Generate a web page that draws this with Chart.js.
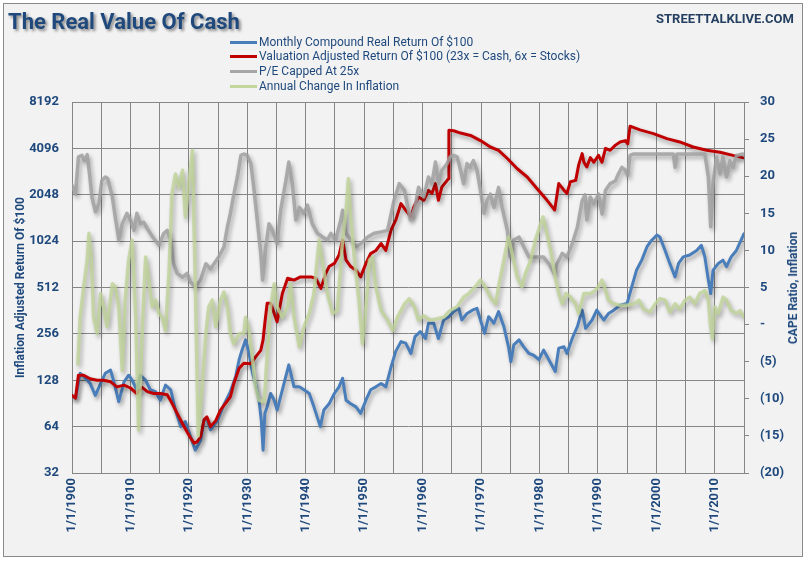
<!DOCTYPE html>
<html><head><meta charset="utf-8">
<script src="https://cdn.jsdelivr.net/npm/chart.js@4.4.1/dist/chart.umd.min.js"></script>
<style>
html,body{margin:0;padding:0;background:#fff;}
#wrap{position:relative;width:807px;height:561px;overflow:hidden;}
#frame{position:absolute;left:3px;top:3px;width:800px;height:554px;border:1px solid #8a8a8a;background:#f2f2f2;box-sizing:border-box;}
canvas{position:absolute;left:0;top:0;}
.t{position:absolute;font-family:'Liberation Sans Narrow',Roboto,sans-serif;color:#1F497D;white-space:nowrap;}
#title{left:8px;top:9px;font-size:22px;font-weight:bold;text-shadow:2px 2px 3px rgba(0,0,0,0.45);}
#site{left:656px;top:11px;font-size:13px;font-weight:bold;color:#243F60;}
.lg{position:absolute;left:230px;width:27px;height:3px;}
.lt{left:259px;font-size:12px;line-height:15px;}
#rtitle{left:793px;top:288px;font-size:12px;font-weight:bold;transform:translate(-50%,-50%) rotate(-90deg);}
</style></head>
<body><div id="wrap">
<div id="frame"></div>
<canvas id="c" width="807" height="561"></canvas>
<div class="t" id="title">The Real Value Of Cash</div>
<div class="t" id="site">STREETTALKLIVE.COM</div>
<div class="lg" style="top:41px;background:#4A7EBB"></div><div class="t lt" style="top:35px">Monthly Compound Real Return Of $100</div>
<div class="lg" style="top:55px;background:#C00000"></div><div class="t lt" style="top:49px">Valuation Adjusted Return Of $100 (23x = Cash, 6x = Stocks)</div>
<div class="lg" style="top:70px;background:#A6A6A6"></div><div class="t lt" style="top:64px">P/E Capped At 25x</div>
<div class="lg" style="top:85px;background:#C3D69B"></div><div class="t lt" style="top:79px">Annual Change In Inflation</div>
<div class="t" id="rtitle">CAPE Ratio, Inflation</div>
</div>
<script>
const leftTicks = [32,64,128,256,512,1024,2048,4096,8192];
const rightTicks = [-20,-15,-10,-5,0,5,10,15,20,25,30];
const xTickYears = [1900,1905,1910,1915,1920,1925,1930,1935,1940,1945,1950,1955,1960,1965,1970,1975,1980,1985,1990,1995,2000,2005,2010,2015];

const blueYears = [1900,1900.6,1901.4,1902.3,1903.1,1904,1904.9,1905.7,1906.6,1907.1,1908,1908.9,1909.7,1910.3,1911.1,1911.7,1912.6,1913.4,1914.3,1915.1,1916,1916.9,1917.7,1918.6,1919.4,1920.3,1921.1,1922,1922.6,1923.1,1923.7,1924.9,1926,1927.1,1928,1928.6,1929.1,1929.7,1930.3,1930.9,1931.4,1932,1932.4,1932.7,1933,1933.4,1934,1934.6,1935.1,1936,1937.1,1938,1938.9,1939.7,1940.6,1941.4,1942.5,1943.1,1944,1944.9,1945.7,1946.3,1946.9,1947.7,1948.6,1949.4,1950.3,1951.1,1952,1952.9,1953.7,1954.6,1955.4,1956.3,1957.1,1958,1958.7,1959.6,1960.5,1961,1961.9,1962.7,1963.6,1964.5,1965.3,1966.2,1966.7,1967.6,1968.5,1969.3,1969.9,1970.6,1971.3,1972.2,1973,1973.9,1974.7,1975.1,1975.6,1976.5,1977.3,1978.2,1979,1979.9,1980.7,1981.6,1982.7,1983.3,1984.2,1984.7,1985.6,1986.5,1987.3,1987.9,1989,1989.8,1991,1991.8,1992.7,1993.8,1995,1995.8,1996.6,1997.5,1998.4,1999.2,2000.1,2000.6,2001.5,2002.3,2003.2,2003.8,2004.6,2005.7,2006.9,2007.7,2008.3,2008.9,2009.3,2009.7,2010.6,2011.4,2012,2012.8,2013.7,2014.5,2015];
const blueValues = [102,98,142,132,122,102,122,142,149,128,93,125,138,128,111,138,128,111,108,95,119,111,82,64,69,55,45,52,70,72,61,70,89,108,135,174,201,234,191,142,122,95,70,45,78,86,105,95,82,111,161,116,116,111,105,86,64,82,90,105,116,132,95,90,86,78,95,111,116,122,116,156,197,228,223,191,246,265,239,300,300,239,315,331,357,375,315,347,365,375,315,258,331,300,357,286,211,169,217,234,211,191,186,174,201,174,146,207,211,191,239,286,365,278,315,365,315,347,365,393,404,519,662,771,942,1038,1120,1090,891,734,600,734,809,832,891,962,809,572,468,662,734,771,700,809,891,1038,1144];

const redYears = [1900,1900.6,1901.1,1902,1903.1,1904.3,1905.4,1906.6,1907.7,1908.9,1910,1911.1,1912,1912.9,1914,1915.1,1916.3,1917.1,1918,1918.9,1919.7,1920.3,1920.9,1921.4,1922,1922.6,1923.1,1923.7,1924.6,1925.4,1926.3,1927.1,1927.7,1928.6,1929.4,1930.6,1931.4,1932.3,1932.7,1933,1933.4,1934,1934.6,1935.1,1936,1936.9,1938,1939.1,1940.9,1941.7,1942.6,1943.4,1944,1944.9,1945.7,1946.3,1946.9,1947.7,1948.6,1949.4,1950.3,1951.1,1952,1952.9,1953.7,1954.6,1955.4,1956.3,1957.1,1958,1958.5,1959.3,1960.2,1961,1961.6,1962.2,1962.7,1963.3,1964.2,1964.4,1964.5,1965.3,1966.5,1968.2,1969.9,1971.6,1973,1974.5,1976.2,1977.9,1979.6,1981.3,1982.6,1983.3,1984.2,1984.7,1985.3,1986.2,1986.7,1987.3,1987.6,1988.1,1988.7,1989.3,1990.1,1990.7,1991.3,1992.1,1993,1993.8,1994.7,1995.1,1995.5,1997.2,1999.5,2001.8,2004,2006.3,2008.6,2010.9,2013.1,2015];
const redValues = [102,98,138,138,131,128,128,125,116,119,114,105,115,108,105,105,103,91,78,67,59,54,50,51,55,71,74,64,70,82,91,100,122,153,165,164,181,200,234,300,405,405,348,307,468,588,572,600,600,588,505,630,700,734,832,1040,771,700,663,600,734,850,890,988,891,1209,1400,1795,1630,1470,1710,1980,1885,2190,2090,2420,1885,2300,2540,2600,5370,5330,5150,4970,4600,4180,3980,3520,3020,2670,2240,1885,1630,2420,2190,2090,2490,2540,3190,3790,3330,3100,3565,3330,3690,3330,4096,3980,4300,4510,4600,4390,5710,5400,5110,4740,4510,4180,3980,3870,3690,3565];

const grayYears = [1900,1900.6,1901.1,1901.7,1902.1,1902.6,1903,1903.4,1904,1904.6,1905.1,1905.7,1906.1,1906.9,1907.4,1908,1908.6,1909.4,1910,1910.6,1911.1,1911.7,1912.3,1912.9,1913.4,1914,1914.9,1915.7,1916.3,1916.9,1917.4,1918,1918.9,1919.7,1920.3,1921.1,1922,1922.9,1923.7,1924.3,1925.1,1926,1926.6,1927.1,1927.7,1928.3,1928.9,1929.4,1930,1930.6,1931.1,1931.7,1932.3,1932.6,1933.1,1933.7,1934.3,1935.1,1935.7,1936.6,1937.1,1937.7,1938.3,1938.9,1939.7,1940.3,1941.1,1942,1942.9,1943.7,1944.3,1945.1,1946,1946.3,1946.9,1947.7,1948.6,1949.4,1950.6,1951.7,1952.9,1954,1955.1,1956,1956.9,1957.9,1958.7,1959.3,1960.2,1961,1961.6,1962.2,1962.7,1963.3,1964.2,1964.7,1965.3,1965.9,1966.5,1967,1967.6,1968.1,1968.7,1969.3,1969.9,1970.5,1971,1971.6,1972.2,1973,1973.6,1974.5,1975,1975.6,1976.5,1977.3,1978.2,1979,1979.9,1980.7,1981.6,1982.5,1983,1983.9,1984.7,1985.6,1986.5,1987.3,1987.8,1988.1,1988.7,1989.3,1990.1,1990.7,1991.3,1992.1,1993,1993.5,1994.1,1994.7,1995.1,1995.5,1996.1,2002.9,2003.2,2003.5,2008.3,2008.9,2009.3,2009.7,2010.3,2010.9,2011.4,2012,2012.6,2013.1,2013.7,2014.8,2015];
const grayValues = [18.8,17.6,22.6,22.8,22.1,22.9,20.3,17.2,15.2,16.3,19.4,19.9,19.7,17.2,14.5,11.4,13.6,15,14.1,12.7,15,13.6,13.8,12.9,12.3,11.6,10.7,12.3,12.7,11.4,8.2,6.9,6.4,6.9,5.7,5.1,6,8.2,7.5,8.2,9.1,10.5,13.2,15,17.6,19.9,22.8,23,22.8,21.7,18.5,14.1,9.6,6,10.1,13.6,12.7,10.9,15.4,19.4,21.9,19,14.1,15.8,15,16.1,13.6,12.3,11.8,11.4,12.3,11.4,14.1,15.4,12.3,11.4,10.5,10.9,11.8,12.3,12.5,12.7,16.7,19,18.1,14.1,15.8,18.5,17.2,19.9,19,21.9,19,20.8,21.7,22.6,22.8,22.6,20.8,19,21.7,21.2,22.1,20.8,18.1,15,16.7,17.6,15.8,18.5,15.8,12.7,9.1,11.4,11.8,10.5,9.1,9.1,9.1,9.1,8.2,6.9,8.2,9.6,9.1,10.9,13.2,16.7,17.5,14.1,17.2,16.3,17.6,14.9,18.1,19,19.4,20.3,21.2,20.8,20.1,22.8,23,23,21.2,23,23,19.9,13.2,19,22.6,20.3,22.6,19.9,22.1,21.2,22.8,23,22.8];

const greenYears = [1901,1901.4,1902,1902.6,1902.9,1903.3,1903.7,1904.3,1904.9,1905.4,1906,1906.9,1907.4,1908,1908.6,1909.1,1909.7,1910.3,1910.9,1911.4,1912,1912.6,1913.1,1913.7,1914.3,1914.9,1915.4,1916,1916.6,1917.1,1917.7,1918.3,1918.9,1919.4,1920,1920.6,1921.1,1921.6,1922.3,1922.9,1923.4,1924,1924.6,1925.4,1926,1926.6,1927.1,1927.7,1928.6,1929.4,1929.7,1930.3,1930.9,1931.4,1932,1932.9,1933.4,1934,1934.6,1935.1,1936,1936.9,1937.4,1938,1938.9,1939.7,1940.6,1941.4,1942.3,1942.9,1943.7,1944.6,1945.4,1946.3,1946.9,1947.3,1947.7,1948.3,1949.1,1949.7,1950.3,1950.9,1951.4,1952,1952.9,1954,1954.9,1955.7,1956.9,1957.7,1958.6,1959.3,1960.2,1961.3,1962.5,1963.6,1964.7,1965.9,1967,1967.9,1969,1969.9,1970.7,1971.6,1972.5,1973,1973.9,1974.7,1975.3,1976.2,1977,1977.6,1978.5,1979.3,1980.2,1980.6,1981,1981.9,1982.7,1983.3,1983.9,1984.5,1985.3,1986.2,1986.7,1987.6,1988.7,1989.5,1990.1,1990.7,1991.3,1991.8,1992.7,1993.8,1995,1996.1,1997,1997.8,1998.9,1999.8,2000.6,2001.5,2002.3,2003.2,2004,2004.9,2005.7,2006.6,2007.4,2008.3,2008.9,2009.3,2009.6,2010,2010.6,2011.4,2012,2012.8,2013.7,2014.3,2015];
const greenValues = [-5.3,1,5.1,8.7,12.3,9.1,1,-1.2,4.2,2.4,-0.3,5.5,5.1,2.4,-6.2,3.3,8.7,11.4,1,-14.2,-1.2,9.1,6.4,2.4,3.3,1.5,1,-0.8,6.9,17.6,20.3,18.5,20.8,14.5,19,23.5,5.5,-15,-8,-1.2,2.4,3.3,-0.3,3.3,4.4,2.4,-1.2,-2.6,-1.2,-1.2,1,-0.8,-4.8,-8.4,-10.2,-10.4,-4,2.4,5.5,2.4,1,2.4,5.5,1,-3,-0.3,1.5,4.2,11.4,8.2,4.2,1.5,1.9,11.4,15.4,19.7,14.5,9.1,3.3,-2.6,2.4,8.7,9.1,5.1,1.9,0.6,-0.8,1,2.8,3.5,2.4,0.6,1.2,0.6,0.8,1,1.9,2.4,3.7,4.2,5.1,6,5.1,3.7,2.8,5.1,8.7,11.8,9.6,6.4,5.1,6.9,8.7,11.4,13.6,14.5,13.2,10,6.4,4.2,2.8,4.2,3.7,2.8,1.5,4.2,4.2,4.6,5.1,6,4.6,3.3,2.8,2.6,2.6,2.8,3.3,2.1,1.7,2.8,3.5,3.3,1.7,2.8,2.1,3.3,3.7,2.8,4.2,4.6,3.3,-0.3,-1.9,2.4,1.5,3.7,3.3,1.9,1.5,1.9,1];

const zip = (xs, ys) => xs.map((x, i) => ({x: x, y: ys[i]}));
const FONT = "'Liberation Sans Narrow', Roboto, sans-serif";
const TXT = '#1F497D';
const GRID = '#868686';

const shadowPlugin = {
  id: 'shadow',
  beforeDatasetDraw(chart) {
    const ctx = chart.ctx; ctx.save();
    ctx.shadowColor = 'rgba(0,0,0,0.35)'; ctx.shadowBlur = 4; ctx.shadowOffsetX = 2; ctx.shadowOffsetY = 3;
  },
  afterDatasetDraw(chart) { chart.ctx.restore(); }
};

new Chart(document.getElementById('c'), {
  type: 'line',
  data: { datasets: [
    { label: 'Monthly Compound Real Return Of $100', data: zip(blueYears, blueValues), yAxisID: 'y', borderColor: '#4A7EBB', borderWidth: 3, order: 4 },
    { label: 'Valuation Adjusted Return Of $100 (23x = Cash, 6x = Stocks)', data: zip(redYears, redValues), yAxisID: 'y', borderColor: '#C00000', borderWidth: 3, order: 3 },
    { label: 'P/E Capped At 25x', data: zip(grayYears, grayValues), yAxisID: 'y2', borderColor: 'rgba(160,160,160,0.85)', borderWidth: 3.5, order: 2 },
    { label: 'Annual Change In Inflation', data: zip(greenYears, greenValues), yAxisID: 'y2', borderColor: 'rgba(190,210,150,0.8)', borderWidth: 3.5, order: 1 }
  ]},
  options: {
    responsive: false, animation: false,
    elements: { point: { radius: 0 }, line: { tension: 0, borderJoinStyle: 'round', borderCapStyle: 'round' } },
    plugins: { legend: { display: false }, tooltip: { enabled: false } },
    layout: { padding: { top: 102, left: 0, right: 0, bottom: 0 } },
    scales: {
      x: {
        type: 'linear', position: 'bottom', min: 1900, max: 2015,
        afterFit(s) { s.height = 88; },
        afterBuildTicks(s) { s.ticks = xTickYears.map(v => ({ value: v })); },
        ticks: { autoSkip: false, minRotation: 90, maxRotation: 90, padding: 5, color: TXT,
          font: { family: FONT, size: 13, weight: 'bold' },
          callback: v => (Math.round(v) % 10 === 0 ? '1/1/' + Math.round(v) : '') },
        grid: { color: GRID, drawTicks: false },
        border: { color: GRID }
      },
      y: {
        type: 'logarithmic', position: 'left', min: 32, max: 8192,
        afterFit(s) { s.width = 72; },
        afterBuildTicks(s) { s.ticks = leftTicks.map(v => ({ value: v })); },
        ticks: { color: TXT, padding: 13, font: { family: FONT, size: 13, weight: 'bold' }, callback: v => String(Math.round(v)) },
        grid: { color: GRID, drawTicks: false },
        border: { color: GRID },
        title: { display: true, text: 'Inflation Adjusted Return Of $100', color: TXT, font: { family: FONT, size: 12, weight: 'bold' }, padding: { top: 14, bottom: 0 } }
      },
      y2: {
        type: 'linear', position: 'right', min: -20, max: 30,
        afterFit(s) { s.width = 63; },
        afterBuildTicks(s) { s.ticks = rightTicks.map(v => ({ value: v })); },
        ticks: { color: TXT, padding: 11, font: { family: FONT, size: 13, weight: 'bold' },
          callback: v => (v < 0 ? '(' + (-v) + ')' : (v === 0 ? '-' : String(v))) },
        grid: { drawOnChartArea: false, drawTicks: true, tickLength: 5, color: GRID },
        border: { color: GRID }
      }
    }
  },
  plugins: [shadowPlugin]
});
</script>
</body></html>
